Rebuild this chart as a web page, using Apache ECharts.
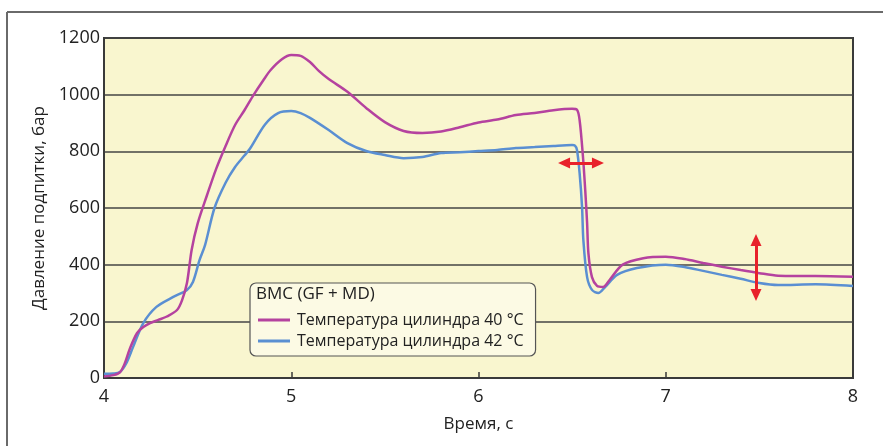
<!DOCTYPE html>
<html>
<head>
<meta charset="utf-8">
<script src="https://cdn.jsdelivr.net/npm/echarts@6/dist/echarts.min.js"></script>
<style>html,body{margin:0;padding:0;background:#fff}#c{width:883px;height:446px}</style>
</head>
<body>
<div id="c"></div>
<script>
// Time (s) and pressure (bar) for each series
const tempe40 = [
[4.0,5],[4.05,10],[4.085,20],[4.11,50],[4.139,105],[4.176,158],[4.21,180],[4.246,194],[4.29,205],[4.336,217],
[4.39,240],[4.417,275],[4.443,335],[4.468,452],[4.50,545],[4.55,645],[4.60,740],[4.65,820],[4.70,893],[4.75,945],
[4.80,1000],[4.85,1050],[4.89,1087],[4.95,1125],[5.0,1140],[5.05,1137],[5.1,1115],[5.15,1082],[5.2,1055],[5.3,1010],
[5.4,953],[5.5,903],[5.6,872],[5.7,865],[5.8,870],[5.9,885],[6.0,902],[6.1,912],[6.2,928],[6.3,935],
[6.4,945],[6.5,950],[6.526,947],[6.54,910],[6.558,780],[6.57,663],[6.58,547],[6.587,440],[6.606,356],[6.633,325],
[6.665,321],[6.70,346],[6.77,400],[6.88,423],[7.0,428],[7.1,420],[7.2,406],[7.3,393],[7.4,381],[7.5,370],
[7.6,361],[7.7,360],[7.8,360],[8.0,357]
];
const tempe42 = [
[4.0,15],[4.05,16],[4.085,21],[4.12,53],[4.155,109],[4.21,194],[4.28,251],[4.37,286],[4.443,311],[4.475,339],
[4.51,416],[4.54,470],[4.59,600],[4.65,690],[4.70,745],[4.75,785],[4.78,810],[4.86,895],[4.93,935],[5.0,942],
[5.05,935],[5.1,918],[5.2,875],[5.3,829],[5.4,801],[5.5,787],[5.6,776],[5.7,780],[5.8,794],[5.9,797],
[6.0,801],[6.1,805],[6.2,812],[6.3,815],[6.4,819],[6.5,822],[6.515,820],[6.526,805],[6.54,723],[6.553,604],
[6.56,487],[6.58,356],[6.606,311],[6.64,300],[6.676,321],[6.74,364],[6.846,388],[7.0,400],[7.1,392],[7.2,378],
[7.3,364],[7.4,350],[7.5,335],[7.6,328],[7.8,331],[8.0,325]
];
const seriesNames = ['Температура цилиндра 40 °C', 'Температура цилиндра 42 °C'];
const legendTitle = 'BMC (GF + MD)';
const xTicks = [4, 5, 6, 7, 8];
const yTicks = [0, 200, 400, 600, 800, 1000, 1200];
// annotation arrows in data units: [[x1,y1],[x2,y2]]
const arrowH = [[6.457, 759], [6.638, 759]];
const arrowV = [[7.482, 487], [7.482, 293]];

const font = 'Open Sans';
const chart = echarts.init(document.getElementById('c'), null, {renderer: 'canvas'});
chart.setOption({
  animation: false,
  backgroundColor: '#ffffff',
  textStyle: {fontFamily: font},
  grid: {left: 104, top: 38, right: 30, bottom: 68, show: true, backgroundColor: '#f9f6cf', borderColor: '#3a3a3a', borderWidth: 2},
  xAxis: {
    type: 'value', min: xTicks[0], max: xTicks[xTicks.length-1], interval: 1,
    name: 'Время, с', nameLocation: 'middle', nameGap: 38,
    nameTextStyle: {fontSize: 17, color: '#222', fontFamily: font},
    axisLine: {lineStyle: {color: '#3a3a3a', width: 2}},
    axisTick: {show: true, inside: true, length: 6, lineStyle: {color: '#3a3a3a', width: 1.5}},
    axisLabel: {fontSize: 18, color: '#222', margin: 10, fontFamily: font},
    splitLine: {show: false}
  },
  yAxis: {
    type: 'value', min: yTicks[0], max: yTicks[yTicks.length-1], interval: 200,
    name: 'Давление подпитки, бар', nameLocation: 'middle', nameGap: 50,
    nameTextStyle: {fontSize: 17, color: '#222', fontFamily: font},
    axisLine: {show: true, lineStyle: {color: '#3a3a3a', width: 2}},
    axisTick: {show: false},
    axisLabel: {fontSize: 18, color: '#222', margin: 4, fontFamily: font, formatter: v => String(v)},
    splitLine: {show: true, lineStyle: {color: '#444', width: 1.5}}
  },
  title: {text: legendTitle, left: 256, top: 286, padding: 0, textStyle: {fontSize: 17, fontWeight: 'normal', color: '#222', fontFamily: font}},
  legend: {
    data: seriesNames, orient: 'vertical', left: 250, top: 283,
    padding: [29, 12, 7, 8], itemGap: 5, itemWidth: 32, itemHeight: 3, icon: 'rect',
    backgroundColor: '#fcfae4', borderColor: '#555', borderWidth: 1.2, borderRadius: 6,
    textStyle: {fontSize: 16, color: '#222', fontFamily: font, padding: [0,0,0,2]}
  },
  graphic: [
    {type: 'line', shape: {x1: 7, y1: 12, x2: 883, y2: 12}, style: {stroke: '#6a6a6a', lineWidth: 2}},
    {type: 'line', shape: {x1: 7, y1: 12, x2: 7, y2: 446}, style: {stroke: '#6a6a6a', lineWidth: 2}}
  ],
  series: [
    {name: seriesNames[0], type: 'line', data: tempe40, showSymbol: false, symbol: 'none', smooth: 0.3,
     lineStyle: {color: '#b5429f', width: 2.5}, itemStyle: {color: '#b5429f'}, z: 3},
    {name: seriesNames[1], type: 'line', data: tempe42, showSymbol: false, symbol: 'none', smooth: 0.3,
     lineStyle: {color: '#5a8fd2', width: 2.5}, itemStyle: {color: '#5a8fd2'}, z: 2},
    {name: 'arrows', type: 'line', data: [], silent: true, z: 4,
     markLine: {silent: true, symbol: ['triangle', 'triangle'], symbolSize: [11, 12], label: {show: false},
       lineStyle: {color: '#e8222b', width: 3, type: 'solid'},
       data: [
         [{coord: arrowH[0]}, {coord: arrowH[1]}],
         [{coord: arrowV[0]}, {coord: arrowV[1]}]
       ]}}
  ]
});
</script>
</body>
</html>
